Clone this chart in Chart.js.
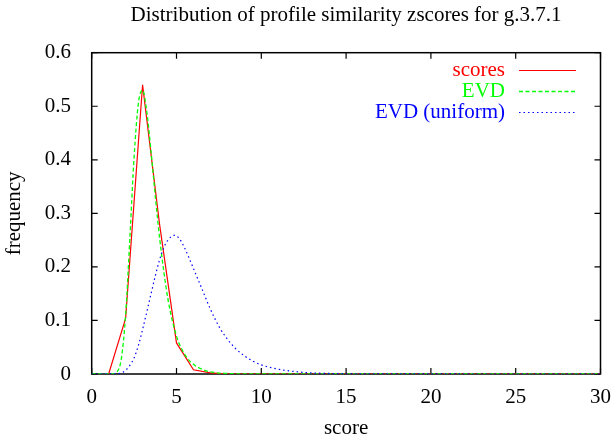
<!DOCTYPE html>
<html>
<head>
<meta charset="utf-8">
<style>
html,body{margin:0;padding:0;background:#ffffff;}
#wrap{width:614px;height:437px;}
</style>
<script src="https://cdn.jsdelivr.net/npm/chart.js@4/dist/chart.umd.min.js"></script>
</head>
<body>
<div id="wrap"><canvas id="c" width="614" height="437"></canvas></div>
<script>
// ---- data ----
const titleText = 'Distribution of profile similarity zscores for g.3.7.1';
const xAxisLabel = 'score';
const yAxisLabel = 'frequency';
const seriesNames = ['scores', 'EVD', 'EVD (uniform)'];
const seriesColors = ['#ff0000', '#00ff00', '#0000ff'];
const xTicks = [0, 5, 10, 15, 20, 25, 30];
const xTickLabels = ['0', '5', '10', '15', '20', '25', '30'];
const yTicks = [0, 0.1, 0.2, 0.3, 0.4, 0.5, 0.6];
const yTickLabels = ['0', '0.1', '0.2', '0.3', '0.4', '0.5', '0.6'];

const scoresX = [1, 2, 3, 4, 5, 6, 7, 8, 9, 10, 11, 12, 13, 14, 15, 16, 17, 18, 19, 20, 21, 22, 23, 24, 25, 26, 27, 28, 29, 30];
const scoresY = [0, 0.104, 0.54, 0.28, 0.058, 0.008, 0.002, 0, 0, 0, 0, 0, 0, 0, 0, 0, 0, 0, 0, 0, 0, 0, 0, 0, 0, 0, 0, 0, 0, 0];

const evdX = [0, 1, 1.25, 1.5, 1.75, 2, 2.25, 2.5, 2.75, 3, 3.25, 3.5, 3.75, 4, 4.5, 5, 5.5, 6, 6.5, 7, 8, 9, 10, 30];
const evdY = [0, 0, 0.0002, 0.004, 0.029, 0.11, 0.254, 0.405, 0.505, 0.53, 0.489, 0.415, 0.332, 0.255, 0.139, 0.071, 0.036, 0.018, 0.009, 0.004, 0.001, 0.0002, 0, 0];

const uniX = [0, 1.5, 1.75, 2, 2.25, 2.5, 2.75, 3, 3.25, 3.5, 3.75, 4, 4.25, 4.5, 4.85, 5, 5.25, 5.5, 5.75, 6, 6.25, 6.5, 7, 7.5, 8, 8.5, 9, 9.5, 10, 11, 12, 13, 14, 15, 16, 30];
const uniY = [0, 0.0003, 0.002, 0.007, 0.016, 0.03, 0.053, 0.083, 0.116, 0.15, 0.183, 0.213, 0.236, 0.25, 0.259, 0.258, 0.249, 0.234, 0.216, 0.197, 0.178, 0.159, 0.121, 0.089, 0.065, 0.047, 0.034, 0.024, 0.017, 0.009, 0.0045, 0.002, 0.001, 0.0005, 0.0002, 0];

// ---- chart ----
const FONT = "'Liberation Serif', 'Times New Roman', serif";
const FS = 21;
const toPts = (xs, ys) => xs.map((x, i) => ({ x: x, y: ys[i] }));

const frameAndTicks = {
  id: 'frameAndTicks',
  beforeDatasetsDraw(chart) {
    const { ctx, chartArea: a, scales } = chart;
    ctx.save();
    ctx.strokeStyle = '#000';
    ctx.lineWidth = 1.5;
    ctx.strokeRect(a.left, a.top, a.right - a.left, a.bottom - a.top);
    ctx.lineWidth = 1.2;
    ctx.beginPath();
    const L = 6;
    xTicks.forEach(v => {
      const px = scales.x.getPixelForValue(v);
      ctx.moveTo(px, a.bottom); ctx.lineTo(px, a.bottom - L);
      ctx.moveTo(px, a.top); ctx.lineTo(px, a.top + L);
    });
    yTicks.forEach(v => {
      const py = scales.y.getPixelForValue(v);
      ctx.moveTo(a.left, py); ctx.lineTo(a.left + L, py);
      ctx.moveTo(a.right, py); ctx.lineTo(a.right - L, py);
    });
    ctx.stroke();
    ctx.restore();
  }
};

const keyPlugin = {
  id: 'keyPlugin',
  afterDatasetsDraw(chart) {
    const { ctx } = chart;
    ctx.save();
    ctx.font = FS + 'px ' + FONT;
    ctx.textAlign = 'right';
    ctx.textBaseline = 'middle';
    chart.data.datasets.forEach((ds, i) => {
      const y = 70 + 21 * i;
      ctx.fillStyle = ds.borderColor;
      ctx.fillText(ds.label, 505, y);
      ctx.strokeStyle = ds.borderColor;
      ctx.lineWidth = ds.borderWidth;
      ctx.setLineDash(ds.borderDash || []);
      ctx.beginPath();
      ctx.moveTo(519, y + 0.5);
      ctx.lineTo(576, y + 0.5);
      ctx.stroke();
    });
    ctx.restore();
  }
};

new Chart(document.getElementById('c'), {
  type: 'line',
  data: {
    datasets: [
      {
        label: seriesNames[0], data: toPts(scoresX, scoresY),
        borderColor: seriesColors[0], borderWidth: 1.2, pointRadius: 0,
        fill: false, tension: 0, order: 3
      },
      {
        label: seriesNames[1], data: toPts(evdX, evdY),
        borderColor: seriesColors[1], borderWidth: 1.3, borderDash: [4, 2.5], pointRadius: 0,
        fill: false, cubicInterpolationMode: 'monotone', order: 2
      },
      {
        label: seriesNames[2], data: toPts(uniX, uniY),
        borderColor: seriesColors[2], borderWidth: 1.2, borderDash: [1.5, 3], pointRadius: 0,
        fill: false, cubicInterpolationMode: 'monotone', order: 1
      }
    ]
  },
  options: {
    responsive: false,
    animation: false,
    devicePixelRatio: 1,
    layout: { padding: { left: 0, right: 12.3, top: 0, bottom: 0 } },
    plugins: {
      legend: { display: false },
      tooltip: { enabled: false },
      title: {
        display: true, text: titleText, color: '#000', fullSize: false,
        font: { family: FONT, size: FS, weight: 'normal', lineHeight: 1.2 },
        padding: { top: 2.5, bottom: 25 }
      }
    },
    scales: {
      x: {
        type: 'linear', min: 0, max: 30,
        afterBuildTicks: s => { s.ticks = xTicks.map(v => ({ value: v })); },
        afterFit: s => { s.height = 63; },
        ticks: {
          color: '#000', font: { family: FONT, size: FS }, padding: 3,
          maxRotation: 0, autoSkip: false,
          callback: (v, i) => xTickLabels[i]
        },
        grid: { display: false },
        border: { display: false },
        title: {
          display: true, text: xAxisLabel, color: '#000',
          font: { family: FONT, size: FS, lineHeight: 1 },
          padding: { top: 0, bottom: -1.5 }
        }
      },
      y: {
        type: 'linear', min: 0, max: 0.6,
        afterBuildTicks: s => { s.ticks = yTicks.map(v => ({ value: v })); },
        afterFit: s => { s.width = 91.7; },
        ticks: {
          color: '#000', font: { family: FONT, size: FS }, padding: 12.7,
          autoSkip: false,
          callback: (v, i) => yTickLabels[i]
        },
        grid: { display: false },
        border: { display: false },
        title: {
          display: true, text: yAxisLabel, color: '#000',
          font: { family: FONT, size: FS, lineHeight: 1 },
          padding: { top: 3.7, bottom: 0 }
        }
      }
    }
  },
  plugins: [frameAndTicks, keyPlugin]
});
</script>
</body>
</html>
